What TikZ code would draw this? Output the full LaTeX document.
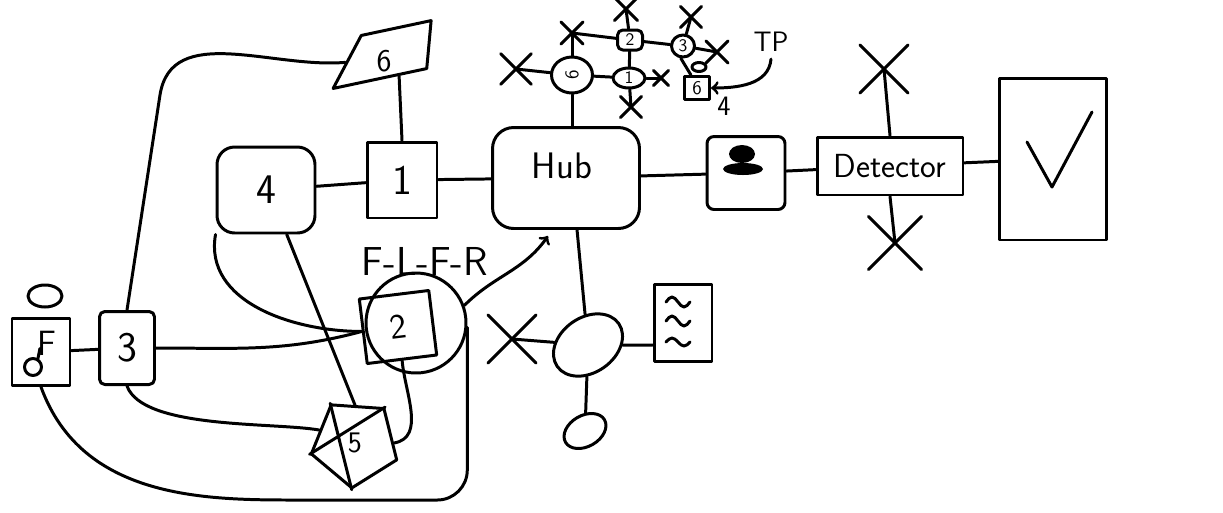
\documentclass[tikz,border=0pt]{standalone}
\usetikzlibrary{shapes.geometric,shapes.misc,calc}

\begin{document}
\begin{tikzpicture}[x=0.02cm,y=-0.02cm,line width=1.7pt,line join=round,line cap=round,
  every node/.style={font=\sffamily},
  fs/.style={font=\sffamily\fontsize{#1pt}{#1pt}\selectfont},
  box/.style={draw=black,rectangle,inner sep=0pt},
  blob/.style={draw=black,ellipse,inner sep=0pt},
  xmark/.style={draw=black,cross out,inner sep=0pt,minimum size=#1}]
\useasboundingbox (0,0) rectangle (1223,512);

% left part
\node[box,minimum width=1.16cm,minimum height=1.34cm] (nF) at (41,352){};
\node[fs=20] (nFt) at (47,343){F};
\node[circle,draw=black,inner sep=0pt,minimum size=0.34cm] (nFd) at (33,367){};
\draw (nFd.60) -- ++(2,-10);
\node[blob,minimum width=0.68cm,minimum height=0.44cm] (nFo) at (45,296){};
\node[box,rounded corners=3pt,minimum width=1.1cm,minimum height=1.46cm,fs=24] (n3) at (127,348){3};
\node[box,rounded corners=10pt,minimum width=1.96cm,minimum height=1.72cm,fs=24] (n4) at (266,190){4};
\node[box,minimum width=1.4cm,minimum height=1.52cm,fs=24] (n1) at (402,180){1};
\node[draw=black,trapezium,trapezium stretches=true,trapezium left angle=56,trapezium right angle=104,rotate=12,inner sep=2pt,minimum width=2.2cm,minimum height=0.92cm] (n6) at (394,52){};
\node[fs=18] (n6t) at (384,61){6};
\node[circle,draw=black,minimum size=2cm] (n2ring) at (416,323){};
\node[box,rotate=7,minimum width=1.4cm,minimum height=1.3cm,fs=20] (n2) at (398,327){2};
\node[fs=23] (flfr) at (425,261){F-L-F-R};
\node[draw=black,regular polygon,regular polygon sides=5,shape border rotate=32,inner sep=0pt,minimum size=1.8cm,fs=17] (n5) at (355,443){5};
\draw (n5.corner 1) -- (n5.corner 3) (n5.corner 2) -- (n5.corner 5);
\coordinate (c63) at (160,95);
\coordinate (loopbot) at (330,500);

% hub line
\node[box,rounded corners=12pt,minimum width=2.94cm,minimum height=2.02cm] (hub) at (566,178){};
\node[fs=21] (hubt) at (562,166){Hub};
\coordinate (hubin) at (548,236);
\node[box,rounded corners=4pt,minimum width=1.56cm,minimum height=1.46cm] (nP) at (746,173){};
\fill (742,154) ellipse [x radius=0.26cm,y radius=0.18cm];
\fill (743,169) ellipse [x radius=0.4cm,y radius=0.12cm];
\node[fs=16] (n4t) at (724,106){4};
\node[box,minimum width=2.92cm,minimum height=1.16cm,fs=19] (det) at (890,166){Detector};
\node[box,minimum width=2.14cm,minimum height=3.24cm] (chk) at (1053,159){};
\draw (1027,142) -- (1052,187) -- (1092,112);
\node[xmark=0.9cm] (xd1) at (884,69){};
\node[xmark=1.0cm] (xd2) at (895,243){};

% below the hub
\node[blob,rotate=35,minimum width=1.5cm,minimum height=1.1cm] (nE) at (588,345){};
\node[xmark=0.9cm] (xe) at (512,339){};
\node[box,minimum width=1.16cm,minimum height=1.54cm] (nW) at (683,323){};
\draw (666,302) sin (672,297) cos (678,302) sin (684,307) cos (690,302);
\draw (666,321) sin (672,316) cos (678,321) sin (684,326) cos (690,321);
\draw (666,342) sin (672,338) cos (678,342) sin (684,346) cos (690,342);
\node[blob,rotate=30,minimum width=0.9cm,minimum height=0.62cm] (nS) at (585,431){};

% top net
\node[blob,minimum width=0.82cm,minimum height=0.72cm,fs=11] (g6) at (572,75){\rotatebox{90}{6}};
\node[box,rounded corners=3pt,minimum width=0.5cm,minimum height=0.4cm,fs=10] (g2) at (630,40){2};
\node[blob,minimum width=0.46cm,minimum height=0.44cm,fs=10] (g3) at (683,46){3};
\node[blob,minimum width=0.64cm,minimum height=0.4cm,fs=10] (g1) at (629,78){1};
\node[box,minimum width=0.5cm,minimum height=0.46cm,fs=11] (g6b) at (697,88){6};
\node[blob,minimum width=0.28cm,minimum height=0.18cm] (go) at (699,67){};
\node[xmark=0.55cm] (xg1) at (516,69){};
\node[xmark=0.38cm] (xg2) at (572,33){};
\node[xmark=0.4cm] (xg3) at (626,9){};
\node[xmark=0.36cm] (xg4) at (691,17){};
\node[xmark=0.38cm] (xg5) at (717,52){};
\node[xmark=0.24cm] (xg6) at (661,78){};
\node[xmark=0.36cm] (xg7) at (631,107){};
\node[fs=16] (tp) at (771,42){TP};

\path (xg1.center) edge (g6) (g6) edge (xg2.center) (xg2.center) edge (g2);
\path (g2) edge (xg3.center) (g2) edge (g3) (g2) edge (g1) (g6) edge (g1);
\path (g1) edge (xg6.center) (g1) edge (xg7.center);
\path (g3) edge (xg4.center) (g3) edge (xg5.center) (g3.-100) edge (g6b.115);
\path (g6) edge (g6.south |- hub.north);
\draw[->] (tp.south) to[out=-95,in=0] (g6b.east);

\path (n4) edge (n1) (n1) edge (hub) (hub) edge (nP) (nP) edge (det) (det) edge (chk);
\path (det.north) edge (xd1.center) (det.south) edge (xd2.center);
\path (n6.south) edge (n1.north);
\draw (n6.west) to[out=185,in=81] (c63) -- (n3.north);
\path (nF) edge (n3);
\path (n3.east) edge[out=0,in=195] (n2.west);
\path (n4.south west) edge[out=-100,in=180] (n2.west);
\path (n4.-65) edge (n5.north);
\path (n2.south) edge[out=-85,in=10] (n5.east);
\path (n3.south) edge[out=-70,in=170,looseness=0.6] (n5.160);
\draw[rounded corners=0.6cm] (nF.south) to[out=-70,in=180] (loopbot) -| (n2ring.-5);
\draw[->] (n2ring.20) to[out=45,in=-125] (hubin);

\path (hub.-78) edge (nE) (nE) edge (xe.center) (nE) edge (nW.west |- nE.center) (nE) edge (nS);

\end{tikzpicture}
\end{document}
